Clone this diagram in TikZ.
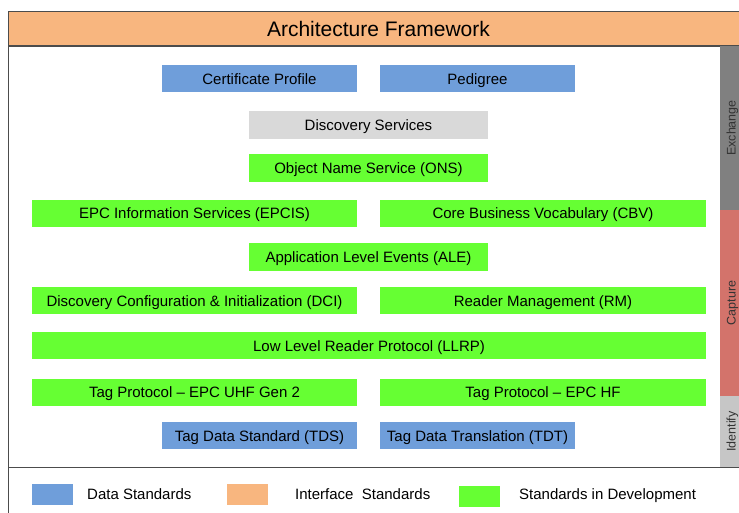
\documentclass[tikz,border=0pt]{standalone}
\usepackage{fontspec}
\setmainfont{Liberation Sans}
\usepackage{xcolor}
\definecolor{datablue}{RGB}{111,158,218}
\definecolor{ifaceorange}{RGB}{248,182,127}
\definecolor{develgreen}{RGB}{102,255,51}
\definecolor{discogrey}{RGB}{217,217,217}
\definecolor{exchgrey}{RGB}{128,128,128}
\definecolor{captred}{RGB}{211,115,107}
\definecolor{identgrey}{RGB}{198,198,198}
\tikzset{std box/.style={minimum height=27pt,inner sep=0pt,text height=12.5pt,text depth=1.5pt,
   font=\fontsize{15}{18}\selectfont},
 data/.style={std box,fill=datablue},
 devel/.style={std box,fill=develgreen},
 disco/.style={std box,fill=discogrey},
 band/.style={rotate=90,minimum height=25pt,inner sep=0pt,text height=9pt,text depth=3pt,
   font=\fontsize{12.5}{15}\selectfont,text=black!80},
 key/.style={minimum width=41pt,minimum height=21pt,inner sep=0pt},
 keytext/.style={anchor=base west,inner sep=0pt,font=\fontsize{15}{18}\selectfont},
 frame/.style={draw=black!70,line width=1pt},
 }

\begin{document}
\begin{tikzpicture}[x=1pt,y=-1pt]
        \useasboundingbox (0,0) rectangle (739,513);
        \node[frame,fill=ifaceorange,anchor=north west,minimum width=740pt,minimum height=35pt,
            inner sep=0pt,font=\fontsize{21}{24}\selectfont] (head) at (8,11) {Architecture Framework};
        \node[band,fill=exchgrey,minimum width=164pt] (exch) at (732.5,128) {Exchange};
        \node[band,fill=captred,minimum width=186pt] (capt) at (732.5,303) {Capture};
        \node[band,fill=identgrey,minimum width=71pt] (ident) at (732.5,431.5) {Identify};
        \draw[frame] (8,46) rectangle (745,467);
        \draw[frame] (8,467) -- (8,520);
        \node[data,minimum width=195pt] (cert) at (259.5,79) {Certificate Profile};
        \node[data,minimum width=195pt] (pedi) at (477.5,79) {Pedigree};
        \node[disco,minimum width=239pt,minimum height=28pt] (disc) at (368.5,125) {Discovery Services};
        \node[devel,minimum width=239pt,minimum height=28pt] (ons) at (368.5,168) {Object Name Service (ONS)};
        \node[devel,minimum width=325pt] (epcis) at (194.5,213.5) {EPC Information Services (EPCIS)};
        \node[devel,minimum width=326pt] (cbv) at (543,213.5) {Core Business Vocabulary (CBV)};
        \node[devel,minimum width=239pt,minimum height=28pt] (ale) at (368.5,257) {Application Level Events (ALE)};
        \node[devel,minimum width=325pt] (dci) at (194.5,300.5) {Discovery Configuration \& Initialization (DCI)};
        \node[devel,minimum width=326pt] (rm) at (543,300.5) {Reader Management (RM)};
        \node[devel,minimum width=674pt] (llrp) at (369,345.5) {Low Level Reader Protocol (LLRP)};
        \node[devel,minimum width=325pt] (uhf) at (194.5,392) {Tag Protocol – EPC UHF Gen 2};
        \node[devel,minimum width=326pt] (hf) at (543,392) {Tag Protocol – EPC HF};
        \node[data,minimum width=195pt] (tds) at (259.5,435.5) {Tag Data Standard (TDS)};
        \node[data,minimum width=195pt] (tdt) at (477.5,435.5) {Tag Data Translation (TDT)};
        \node[key,fill=datablue] (keydata) at (52.5,494.5) {};
        \node[keytext] (lbldata) at (87,499) {Data Standards};
        \node[key,fill=ifaceorange] (keyiface) at (247,494.5) {};
        \node[keytext] (lbliface) at (295,499) {Interface\ \ Standards};
        \node[key,fill=develgreen] (keydev) at (479.5,496) {};
        \node[keytext] (lbldev) at (519,499) {Standards in Development};
    \end{tikzpicture}
\end{document}
